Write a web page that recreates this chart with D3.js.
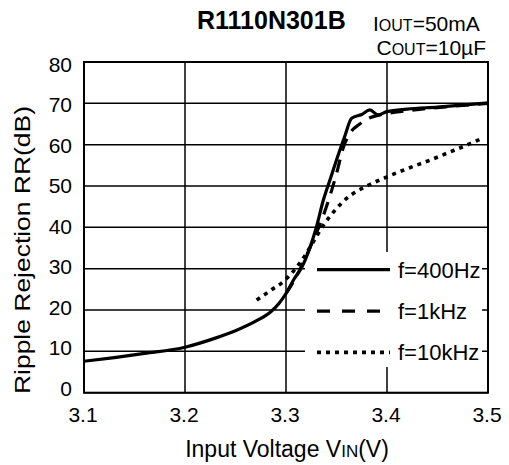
<!DOCTYPE html>
<html><head><meta charset="utf-8">
<script src="https://cdn.jsdelivr.net/npm/d3@7"></script>
<style>body{margin:0;background:#fff}text{font-family:Arial,"Liberation Sans",sans-serif;fill:#000}</style>
</head><body><svg id="c" width="509" height="465"></svg>
<script>
const xTicks = [3.1, 3.2, 3.3, 3.4, 3.5];
const yTicks = [0, 10, 20, 30, 40, 50, 60, 70, 80];

const volt400 = [3.10, 3.13, 3.16, 3.20, 3.23, 3.25, 3.27, 3.285, 3.293, 3.30, 3.308, 3.316, 3.324, 3.33, 3.337, 3.344, 3.35, 3.358, 3.365, 3.375, 3.383, 3.391, 3.40, 3.42, 3.45, 3.5];
const rr400   = [7.6, 8.5, 9.5, 11.0, 13.2, 15.0, 17.3, 19.6, 21.6, 24.0, 27.5, 30.5, 35.3, 40.0, 46.6, 51.8, 56.3, 61.9, 66.4, 67.3, 68.4, 67.2, 68.0, 68.6, 69.1, 70.1];

const volt1k = [3.30, 3.31, 3.32, 3.328, 3.336, 3.344, 3.35, 3.357, 3.364, 3.373, 3.383, 3.393, 3.41, 3.43, 3.46, 3.5];
const rr1k   = [24.0, 28.0, 33.0, 37.5, 42.2, 48.0, 53.0, 59.5, 63.0, 65.0, 66.5, 67.2, 67.9, 68.5, 69.2, 70.0];

const volt10k = [3.271, 3.285, 3.297, 3.307, 3.317, 3.327, 3.337, 3.348, 3.36, 3.38, 3.40, 3.42, 3.443, 3.46, 3.48, 3.494];
const rr10k   = [22.4, 24.8, 26.8, 29.3, 32.5, 36.5, 40.5, 44.0, 47.0, 50.0, 52.2, 54.2, 56.3, 58.0, 60.0, 61.5];

const seriesNames = ["f=400Hz", "f=1kHz", "f=10kHz"];

const svg = d3.select("#c");
const L = 84, R = 488, T = 62, B = 392.7;
const x = d3.scaleLinear().domain([3.1, 3.5]).range([L, R]);
const y = d3.scaleLinear().domain([0, 80]).range([B, T]);

// grid
svg.append("g").selectAll("line").data(xTicks).join("line")
  .attr("x1", d => x(d)).attr("x2", d => x(d)).attr("y1", T).attr("y2", B)
  .attr("stroke", "#000").attr("stroke-width", 1.5);
svg.append("g").selectAll("line").data(yTicks).join("line")
  .attr("x1", L).attr("x2", R).attr("y1", d => y(d)).attr("y2", d => y(d))
  .attr("stroke", "#000").attr("stroke-width", 1.5);

// legend background
svg.append("rect").attr("x", 305).attr("y", 252).attr("width", 177).attr("height", 115).attr("fill", "#fff");

// frame
svg.append("rect").attr("x", L).attr("y", T).attr("width", R - L).attr("height", B - T)
  .attr("fill", "none").attr("stroke", "#000").attr("stroke-width", 2);

// tick labels
svg.append("g").selectAll("text").data(xTicks).join("text")
  .attr("x", d => x(d) - 1).attr("y", 422).attr("text-anchor", "middle")
  .style("font-size", "21px").text(d => d3.format(".1f")(d));
svg.append("g").selectAll("text").data(yTicks).join("text")
  .attr("x", 72).attr("y", d => y(d) + 10 - (80 - d) * 0.09).attr("text-anchor", "end")
  .style("font-size", "21px").text(d => d);

// axis titles
const xl = svg.append("text").attr("x", 287).attr("y", 457).attr("text-anchor", "middle").style("font-size", "23px");
xl.append("tspan").text("Input Voltage V");
xl.append("tspan").style("font-size", "17px").text("IN");
xl.append("tspan").text("(V)");

svg.append("text").attr("transform", "translate(30,250) rotate(-90)").attr("text-anchor", "middle")
  .style("font-size", "22.5px").attr("textLength", 288).attr("lengthAdjust", "spacingAndGlyphs")
  .text("Ripple Rejection RR(dB)");

// title and conditions
svg.append("text").attr("x", 197).attr("y", 29).style("font-size", "25px").style("font-weight", "bold").text("R1110N301B");
const c1 = svg.append("text").attr("x", 373).attr("y", 31).style("font-size", "21px");
c1.append("tspan").text("I");
c1.append("tspan").style("font-size", "16px").text("OUT");
c1.append("tspan").text("=50mA");
const c2 = svg.append("text").attr("x", 486).attr("y", 55).attr("text-anchor", "end").style("font-size", "21px");
c2.append("tspan").text("C");
c2.append("tspan").style("font-size", "16px").text("OUT");
c2.append("tspan").text("=10\u00b5F");

// curves
const line = d3.line().x(d => x(d[0])).y(d => y(d[1])).curve(d3.curveMonotoneX);
const styles = [
  {dash: null, w: 3.2},
  {dash: "13,9", w: 3.2},
  {dash: "4,5", w: 3.6}
];
const data = [d3.zip(volt400, rr400), d3.zip(volt1k, rr1k), d3.zip(volt10k, rr10k)];
svg.append("g").selectAll("path").data(data).join("path")
  .attr("d", line).attr("fill", "none").attr("stroke", "#000")
  .attr("stroke-width", (d, i) => styles[i].w)
  .attr("stroke-dasharray", (d, i) => styles[i].dash);

// legend
const legY = [30, 20, 10];
const lg = svg.append("g").selectAll("g").data(seriesNames).join("g");
lg.append("line").attr("x1", 317).attr("x2", 390)
  .attr("y1", (d, i) => y(legY[i]) + 1).attr("y2", (d, i) => y(legY[i]) + 1)
  .attr("stroke", "#000").attr("stroke-width", (d, i) => styles[i].w)
  .attr("stroke-dasharray", (d, i) => i === 1 ? "13,12" : styles[i].dash);
lg.append("text").attr("x", 398).attr("y", (d, i) => y(legY[i]) + 9)
  .style("font-size", "22px").text(d => d);
</script></body></html>
